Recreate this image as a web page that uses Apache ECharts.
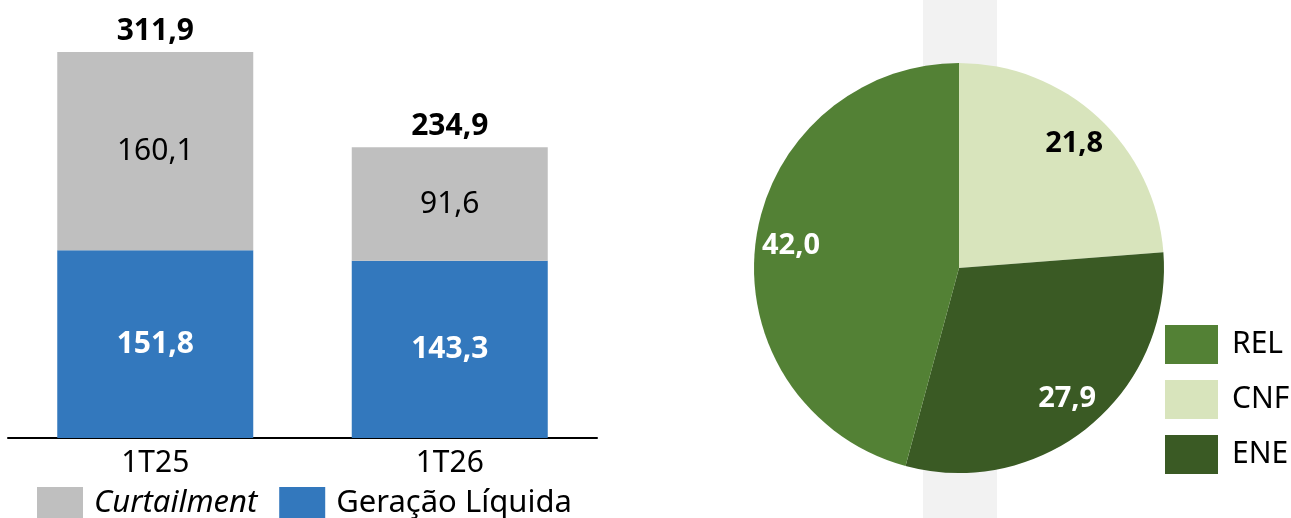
<!DOCTYPE html>
<html>
<head>
<meta charset="utf-8">
<script src="https://cdn.jsdelivr.net/npm/echarts@6/dist/echarts.min.js"></script>
<style>
html,body{margin:0;padding:0;background:#fff;}
#chart{width:1291px;height:518px;}
</style>
</head>
<body>
<div id="chart"></div>
<script>
// ---- data ----
const categories = ['1T25', '1T26'];
const geracaoLiquida = [151.8, 143.3];
const curtailment = [160.1, 91.6];
const totals = [311.9, 234.9];
const barLegend = ['Curtailment', 'Geração Líquida'];

const pieNames = ['CNF', 'ENE', 'REL'];
const pieValues = [21.8, 27.9, 42.0];
const pieLegend = ['REL', 'CNF', 'ENE'];

// ---- styles ----
const pieColors = {CNF: '#D8E4BC', ENE: '#3A5A24', REL: '#538135'};
const pieLabelColors = {CNF: '#000000', ENE: '#ffffff', REL: '#ffffff'};
const fmt = v => v.toFixed(1).replace('.', ',');
const FONT = '"Noto Sans", sans-serif';

const chart = echarts.init(document.getElementById('chart'), null, {renderer: 'canvas'});

const pieData = pieNames.map((n, i) => ({
  name: n, value: pieValues[i], itemStyle: {color: pieColors[n]}
}));
const pieLabelData = pieNames.map((n, i) => ({
  name: n, value: pieValues[i],
  label: {color: pieLabelColors[n]}
}));

chart.setOption({
  animation: false,
  textStyle: {fontFamily: FONT},
  graphic: [{
    type: 'rect', z: -10, silent: true,
    shape: {x: 923, y: 0, width: 74, height: 518},
    style: {fill: '#F2F2F2'}
  }],
  grid: {left: 8, right: 694, top: 0, bottom: 80, containLabel: false},
  xAxis: {
    type: 'category', data: categories,
    axisLine: {show: true, lineStyle: {color: '#000', width: 2}},
    axisTick: {show: false},
    axisLabel: {color: '#000', fontSize: 30, fontFamily: FONT, margin: 10}
  },
  yAxis: {type: 'value', min: 0, max: 354, show: false, splitLine: {show: false}},
  legend: [{
    data: barLegend,
    left: 37, top: 487, padding: 0,
    itemWidth: 46, itemHeight: 32, itemGap: 22,
    icon: 'rect',
    selectedMode: false,
    formatter: name => name === 'Curtailment' ? '{i|Curtailment}' : name,
    textStyle: {
      color: '#000', fontSize: 31, fontFamily: FONT, padding: [0, 0, 0, 6],
      rich: {i: {fontStyle: 'italic', fontSize: 31, fontFamily: FONT, color: '#000'}}
    }
  }, {
    data: pieLegend,
    orient: 'vertical',
    left: 1165, top: 325, padding: 0,
    itemWidth: 53, itemHeight: 39, itemGap: 16,
    icon: 'rect',
    selectedMode: false,
    textStyle: {color: '#000', fontSize: 30, fontFamily: FONT, padding: [0, 0, 0, 9]}
  }],
  series: [
    {
      name: 'Geração Líquida', type: 'bar', stack: 'a', barWidth: 196,
      data: geracaoLiquida,
      itemStyle: {color: '#3378BD'},
      label: {show: true, position: 'inside', color: '#fff', fontWeight: 'bold',
              fontSize: 30, fontFamily: FONT, formatter: p => fmt(p.value)},
      emphasis: {disabled: true}
    },
    {
      name: 'Curtailment', type: 'bar', stack: 'a', barWidth: 196,
      data: curtailment,
      itemStyle: {color: '#BFBFBF'},
      label: {show: true, position: 'inside', color: '#000',
              fontSize: 30, fontFamily: FONT, formatter: p => fmt(p.value)},
      emphasis: {disabled: true}
    },
    {
      name: 'Total', type: 'line', data: totals,
      symbol: 'circle', symbolSize: 1, showSymbol: true,
      itemStyle: {color: 'rgba(0,0,0,0)'},
      lineStyle: {opacity: 0}, silent: true,
      label: {show: true, position: 'top', distance: 5, color: '#000', fontWeight: 'bold',
              fontSize: 30, fontFamily: FONT, formatter: p => fmt(p.value)},
      emphasis: {disabled: true}
    },
    {
      name: 'pie', type: 'pie', center: [959, 268], radius: 205,
      startAngle: 90, clockwise: true, data: pieData,
      label: {show: false}, labelLine: {show: false},
      itemStyle: {borderWidth: 0},
      emphasis: {disabled: true}, silent: true
    },
    {
      name: 'pieLabels', type: 'pie', center: [959, 268], radius: [128, 205],
      startAngle: 90, clockwise: true, data: pieLabelData,
      itemStyle: {color: 'rgba(0,0,0,0)', borderWidth: 0},
      label: {show: true, position: 'inside', fontWeight: 'bold', fontSize: 29,
              fontFamily: FONT, formatter: p => fmt(p.value)},
      labelLine: {show: false},
      emphasis: {disabled: true}, silent: true
    }
  ]
});
</script>
</body>
</html>
